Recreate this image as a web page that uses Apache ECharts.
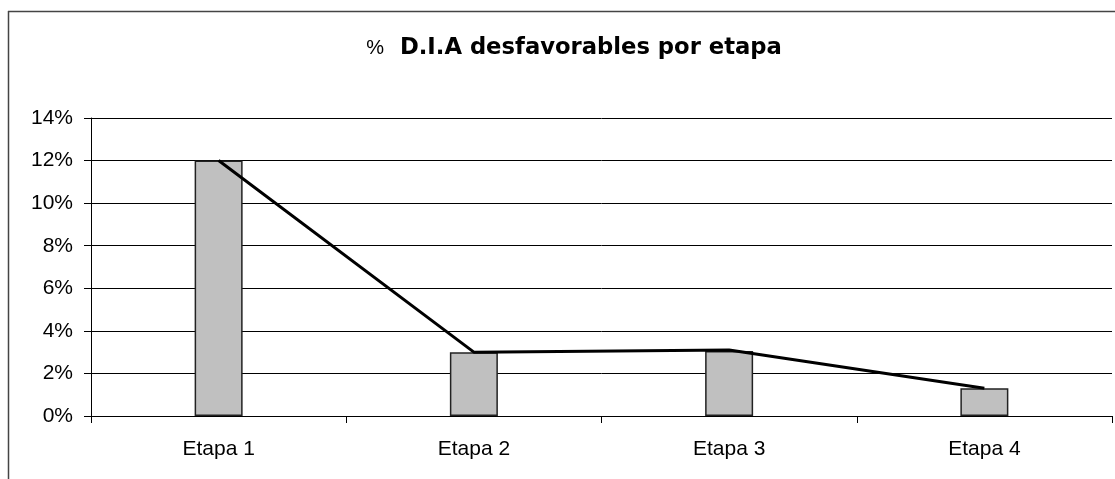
<!DOCTYPE html>
<html lang="es">
<head>
    <meta charset="UTF-8">
    <title>% D.I.A desfavorables por etapa</title>
    <script src="https://cdn.jsdelivr.net/npm/echarts@6.0.0/dist/echarts.min.js"></script>
    <style>
        html, body { margin: 0; padding: 0; background: #fff; }
    </style>
</head>
<body>
    <div id="main" style="width: 1115px;height:479px;"></div>
    <script type="text/javascript">
        // data
        const categories = ['Etapa 1', 'Etapa 2', 'Etapa 3', 'Etapa 4'];
        const barValues = [12, 3.0, 3.05, 1.3];
        const lineValues = [12, 3.0, 3.1, 1.3];
        const yTicks = { min: 0, max: 14, step: 2 };

        let myChart = echarts.init(document.getElementById('main'));

        let options = {
            animation: false,
            backgroundColor: '#fff',
            title: {
                text: '{p|%}{b|D.I.A desfavorables por etapa}',
                left: 569,
                textAlign: 'center',
                top: 32,
                textStyle: {
                    rich: {
                        p: { fontFamily: 'Liberation Sans', fontSize: 20, fontWeight: 'normal', color: '#000', padding: [0, 16, 0, 0] },
                        b: { fontFamily: 'DejaVu Sans', fontSize: 22.7, fontWeight: 'bold', color: '#000' }
                    }
                }
            },
            graphic: [
                { type: 'line', shape: { x1: 8, y1: 11.5, x2: 1115, y2: 11.5 }, style: { stroke: '#444', lineWidth: 1.5 } },
                { type: 'line', shape: { x1: 8.5, y1: 11, x2: 8.5, y2: 479 }, style: { stroke: '#444', lineWidth: 1.5 } }
            ],
            grid: { left: 91, right: 3, top: 118, bottom: 63 },
            xAxis: {
                type: 'category',
                data: categories,
                boundaryGap: true,
                axisLine: { lineStyle: { color: '#000', width: 1 } },
                axisTick: { show: true, length: 7, lineStyle: { color: '#000' } },
                axisLabel: { color: '#000', fontFamily: 'Liberation Sans', fontSize: 21, margin: 23 }
            },
            yAxis: {
                type: 'value',
                min: yTicks.min,
                max: yTicks.max,
                interval: yTicks.step,
                axisLine: { show: true, lineStyle: { color: '#000', width: 1 } },
                axisTick: { show: true, length: 7, lineStyle: { color: '#000' } },
                splitLine: { lineStyle: { color: '#000', width: 1 } },
                axisLabel: {
                    color: '#000', fontFamily: 'Liberation Sans', fontSize: 21, margin: 18,
                    formatter: v => v + '%'
                }
            },
            series: [
                {
                    type: 'bar',
                    data: barValues,
                    barWidth: 48,
                    itemStyle: { color: '#c0c0c0', borderColor: '#222', borderWidth: 1.5 }
                },
                {
                    type: 'line',
                    data: lineValues,
                    symbol: 'none',
                    lineStyle: { color: '#000', width: 3 },
                    z: 5
                }
            ]
        };

        myChart.setOption(options);
    </script>
</body>
</html>
